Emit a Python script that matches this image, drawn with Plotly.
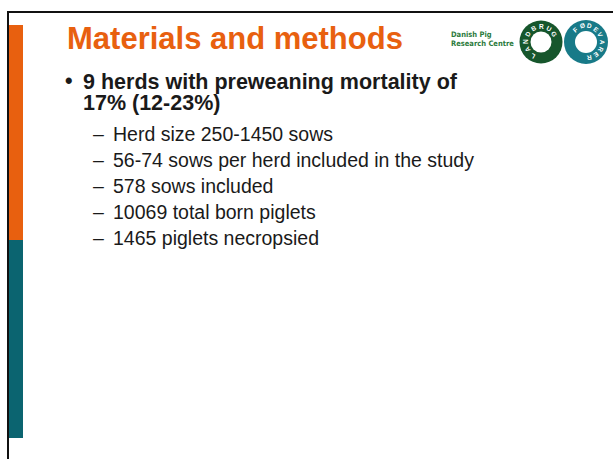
import plotly.graph_objects as go
import math

W, H = 613, 459

title_text = "Materials and methods"
bullet_lines = ["9 herds with preweaning mortality of", "17% (12-23%)"]
sub_items = [
    "Herd size 250-1450 sows",
    "56-74 sows per herd included in the study",
    "578 sows included",
    "10069 total born piglets",
    "1465 piglets necropsied",
]
logo_lines = ["Danish Pig", "Research Centre"]
ring_left_word = "LANDBRUG"
ring_right_word = "FØDEVARER"

ORANGE = "#E8600F"
TEAL = "#0B6470"
GREEN_RING = "#16562C"
TEAL_RING = "#187A88"
LOGO_GREEN = "#2B7A3C"
FONT = "Liberation Sans, Arial, sans-serif"

fig = go.Figure()
fig.add_trace(go.Scatter(x=[0, W], y=[0, H], mode="markers", marker=dict(opacity=0), hoverinfo="skip", showlegend=False))

shapes = []
shapes.append(dict(type="line", x0=8, x1=W, y0=12, y1=12, line=dict(color="#111111", width=2)))
shapes.append(dict(type="line", x0=8, x1=8, y0=11, y1=H, line=dict(color="#111111", width=2)))
shapes.append(dict(type="rect", x0=9, x1=23, y0=25, y1=240, fillcolor=ORANGE, line=dict(width=0)))
shapes.append(dict(type="rect", x0=9, x1=23, y0=240, y1=438, fillcolor=TEAL, line=dict(width=0)))

def ring(cx, cy, ro, ri, col):
    shapes.append(dict(type="circle", x0=cx - ro, x1=cx + ro, y0=cy - ro, y1=cy + ro, fillcolor=col, line=dict(width=0)))
    shapes.append(dict(type="circle", x0=cx - ri, x1=cx + ri, y0=cy - ri, y1=cy + ri, fillcolor="white", line=dict(width=0)))

ring(541, 42, 21.5, 10.5, GREEN_RING)
ring(586, 42, 22, 11, TEAL_RING)

annotations = []
annotations.append(dict(x=65, y=38, text=f"<b>{title_text}</b>", showarrow=False, xanchor="left", yanchor="middle",
                        font=dict(family=FONT, size=31, color=ORANGE)))
annotations.append(dict(x=63, y=81, text="<b>•</b>", showarrow=False, xanchor="left", yanchor="middle",
                        font=dict(family=FONT, size=21.5, color="#1a1a1a")))
for i, t in enumerate(bullet_lines):
    annotations.append(dict(x=81, y=81.5 + i * 21.7, text=f"<b>{t}</b>", showarrow=False, xanchor="left", yanchor="middle",
                            font=dict(family=FONT, size=21.5, color="#1a1a1a")))
for i, t in enumerate(sub_items):
    y = 134 + i * 26
    annotations.append(dict(x=91, y=y, text="–", showarrow=False, xanchor="left", yanchor="middle",
                            font=dict(family=FONT, size=19.5, color="#1a1a1a")))
    annotations.append(dict(x=111, y=y, text=t, showarrow=False, xanchor="left", yanchor="middle",
                            font=dict(family=FONT, size=19.5, color="#1a1a1a")))
for i, t in enumerate(logo_lines):
    annotations.append(dict(x=449, y=34 + i * 9, text=f"<b>{t}</b>", showarrow=False, xanchor="left", yanchor="middle",
                            font=dict(family="DejaVu Sans Condensed, Liberation Sans Narrow, sans-serif", size=7.5, color=LOGO_GREEN)))

def ring_letters(word, cx, cy, r, a0, a1):
    n = len(word)
    for k, ch in enumerate(word):
        a = a0 + (a1 - a0) * k / (n - 1)
        rad = math.radians(a)
        x = cx + r * math.sin(rad)
        y = cy - r * math.cos(rad)
        annotations.append(dict(x=x, y=y, text=f"<b>{ch}</b>", showarrow=False, xanchor="center", yanchor="middle",
                                textangle=a, font=dict(family=FONT, size=6.5, color="white")))

ring_letters(ring_left_word, 541, 42, 16, -150, 60)
ring_letters(ring_right_word, 586, 42, 16.5, -40, 170)

fig.update_layout(
    width=W, height=H, autosize=False,
    margin=dict(l=0, r=0, t=0, b=0),
    paper_bgcolor="white", plot_bgcolor="white",
    xaxis=dict(range=[0, W], visible=False, fixedrange=True),
    yaxis=dict(range=[H, 0], visible=False, fixedrange=True),
    shapes=shapes, annotations=annotations, showlegend=False,
)
fig.write_html("out.html", config=dict(displayModeBar=False),
               post_script="document.body.style.margin='0';document.body.style.overflow='hidden';")
